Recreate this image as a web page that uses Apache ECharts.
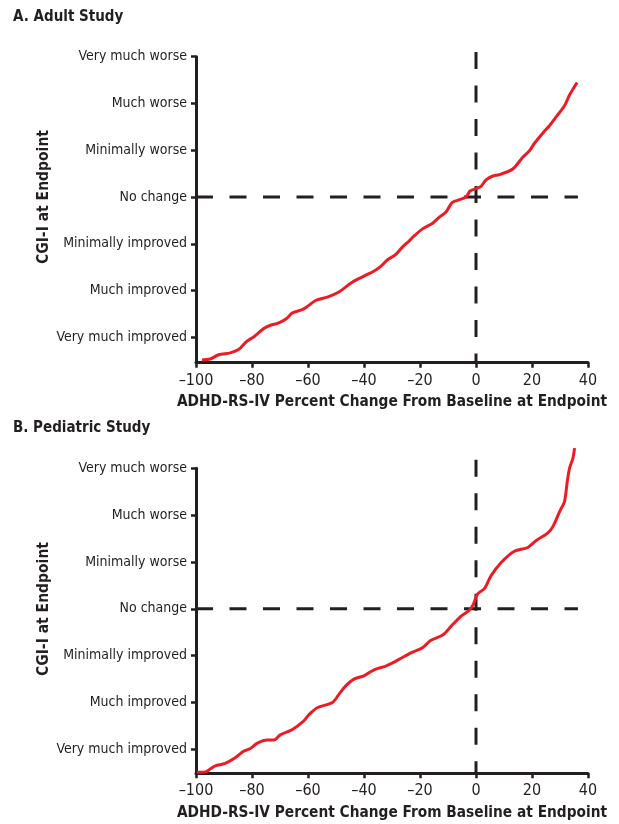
<!DOCTYPE html>
<html>
<head>
<meta charset="utf-8">
<script src="https://cdn.jsdelivr.net/npm/echarts@6/dist/echarts.min.js"></script>
<style>
html,body{margin:0;padding:0;background:#fff;}
#chart{width:619px;height:824px;}
</style>
</head>
<body>
<div id="chart"></div>
<script>
// ---- data ----
const cgiLevels = [1, 2, 3, 4, 5, 6, 7];
const cgiLabels = ['Very much improved', 'Much improved', 'Minimally improved', 'No change', 'Minimally worse', 'Much worse', 'Very much worse'];
const xTickValues = [-100, -80, -60, -40, -20, 0, 20, 40];

const adultX = [-97.9,-94.9,-91.9,-87.8,-84.8,-81.8,-79.4,-75.8,-73.4,-70.4,-67.5,-65.7,-61.5,-57.3,-53.1,-49.0,-44.2,-40.0,-36.4,-34.0,-31.6,-28.7,-26.3,-23.9,-22.1,-19.1,-15.5,-13.1,-10.7,-8.6,-6.6,-3.6,-2.1,0,1.8,3.6,6.0,8.4,13.1,16.7,19.1,20.9,23.9,26.3,28.7,31.6,33.4,36.1];
const adultY = [0.52,0.54,0.63,0.67,0.74,0.92,1.01,1.19,1.26,1.31,1.41,1.52,1.61,1.79,1.86,1.97,2.18,2.31,2.42,2.52,2.66,2.77,2.93,3.06,3.17,3.32,3.44,3.57,3.68,3.88,3.93,4.0,4.13,4.18,4.23,4.37,4.45,4.48,4.60,4.85,4.99,5.15,5.37,5.53,5.72,5.95,6.18,6.45];

const pedX = [-99.7,-96.7,-94.9,-93.1,-89.6,-86.0,-83.0,-80.6,-78.2,-74.6,-72.2,-69.9,-65.7,-61.5,-59.7,-56.7,-51.3,-48.9,-46.6,-43.6,-40.0,-36.4,-32.2,-27.5,-23.3,-19.1,-16.1,-11.9,-9.0,-5.4,-2.4,-1.0,0.6,3.0,5.4,9.0,13.7,18.5,21.5,25.7,27.5,29.9,31.6,32.6,33.4,34.6,35.2];
const pedY = [0.51,0.52,0.58,0.65,0.70,0.82,0.96,1.02,1.13,1.20,1.20,1.31,1.42,1.61,1.74,1.89,2.00,2.18,2.35,2.50,2.57,2.70,2.78,2.92,3.06,3.17,3.33,3.44,3.62,3.84,3.97,4.09,4.32,4.43,4.71,4.99,5.23,5.31,5.46,5.62,5.76,6.08,6.29,6.72,7.00,7.21,7.43];

// reference lines: "No change" level and 0% change
const refNoChange = 4;
const refZero = 0;
const adultRefXEnd = 36.4, adultRefYTop = 7.1;
const pedRefXEnd = 36.4, pedRefYTop = 7.18;

// ---- chart ----
const FONT = "'DejaVu Sans Condensed', 'DejaVu Sans', sans-serif";
const INK = '#231f20';
const RED = '#ed1c24';
const yMinA = 0.46, yMinB = 0.49;

function zip(a, b) { return a.map((v, i) => [v, b[i]]); }

function makeX(gridIndex) {
  return {
    type: 'value', gridIndex: gridIndex, min: -100, max: 40, interval: 20,
    name: 'ADHD-RS-IV Percent Change From Baseline at Endpoint',
    nameLocation: 'middle', nameGap: 32,
    nameTextStyle: { fontFamily: FONT, fontWeight: 'bold', fontSize: 15.3, color: INK },
    axisLine: { show: true, onZero: false, lineStyle: { color: INK, width: 3 } },
    axisTick: { show: true, length: 5, lineStyle: { color: INK, width: 2.5 } },
    axisLabel: {
      margin: 10, fontFamily: FONT, fontSize: 16, color: INK,
      formatter: v => (v < 0 ? '\u2013' + Math.abs(v) : String(v))
    },
    splitLine: { show: false }
  };
}
function makeY(gridIndex, min) {
  return {
    type: 'value', gridIndex: gridIndex, min: min, max: 7,
    axisLine: { show: true, onZero: false, lineStyle: { color: INK, width: 3 } },
    axisTick: { show: true, length: 5, customValues: cgiLevels, lineStyle: { color: INK, width: 2.5 } },
    axisLabel: {
      margin: 9, fontFamily: FONT, fontSize: 14, color: INK, customValues: cgiLevels,
      formatter: v => cgiLabels[cgiLevels.indexOf(Math.round(v))] || ''
    },
    splitLine: { show: false }
  };
}
function refSeries(idx, xEnd, yTop, yMin) {
  const style = { color: INK, width: 3, type: [17, 16.5] };
  return [
    { type: 'line', xAxisIndex: idx, yAxisIndex: idx, data: [[-100, refNoChange], [xEnd, refNoChange]],
      symbol: 'none', lineStyle: style, clip: false, silent: true, z: 2 },
    { type: 'line', xAxisIndex: idx, yAxisIndex: idx, data: [[refZero, yTop], [refZero, yMin]],
      symbol: 'none', lineStyle: style, clip: false, silent: true, z: 2 }
  ];
}

const chart = echarts.init(document.getElementById('chart'), null, { renderer: 'canvas' });
chart.setOption({
  animation: false,
  backgroundColor: '#fff',
  grid: [
    { left: 196, top: 56.7, width: 392, height: 306, containLabel: false, outerBoundsMode: 'none' },
    { left: 196, top: 468.3, width: 392, height: 305, containLabel: false, outerBoundsMode: 'none' }
  ],
  xAxis: [makeX(0), makeX(1)],
  yAxis: [makeY(0, yMinA), makeY(1, yMinB)],
  graphic: [
    { type: 'text', left: 13, top: 10, style: { text: 'A. Adult Study', font: 'bold 15px ' + FONT, fill: INK } },
    { type: 'text', left: 13, top: 421, style: { text: 'B. Pediatric Study', font: 'bold 15px ' + FONT, fill: INK } },
    { type: 'text', x: 44, y: 197, rotation: Math.PI / 2,
      style: { text: 'CGI-I at Endpoint', font: 'bold 15.5px ' + FONT, fill: INK, align: 'center', verticalAlign: 'middle' } },
    { type: 'text', x: 44, y: 609, rotation: Math.PI / 2,
      style: { text: 'CGI-I at Endpoint', font: 'bold 15.5px ' + FONT, fill: INK, align: 'center', verticalAlign: 'middle' } }
  ],
  series: [
    ...refSeries(0, adultRefXEnd, adultRefYTop, yMinA),
    ...refSeries(1, pedRefXEnd, pedRefYTop, yMinB),
    { type: 'line', xAxisIndex: 0, yAxisIndex: 0, data: zip(adultX, adultY), smooth: 0.3,
      symbol: 'none', lineStyle: { color: RED, width: 3 }, clip: false, z: 3 },
    { type: 'line', xAxisIndex: 1, yAxisIndex: 1, data: zip(pedX, pedY), smooth: 0.3,
      symbol: 'none', lineStyle: { color: RED, width: 3 }, clip: false, z: 3 }
  ]
});
</script>
</body>
</html>
